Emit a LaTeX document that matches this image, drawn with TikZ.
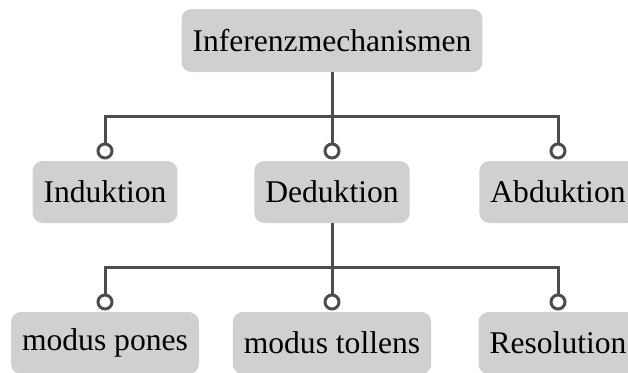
\documentclass[tikz,border=0pt]{standalone}
\usepackage{fontspec}
\setmainfont{Liberation Serif}
\begin{document}
\begin{tikzpicture}[x=0.75pt,y=-0.75pt,
  conceptbox/.style={rectangle, rounded corners=7.5pt, fill=boxgray, text=black,
    inner xsep=8.25pt, inner ysep=0pt, minimum height=46.5pt,
    font=\fontsize{23.7}{28}\selectfont},
  conn/.style={draw=linegray, line width=2.25pt},
  knob/.style={circle, draw=linegray, fill=white, line width=2.25pt,
    minimum size=10.5pt, inner sep=0pt}]
\definecolor{boxgray}{HTML}{D0D0D0}
\definecolor{linegray}{HTML}{4D4D4D}
\useasboundingbox (0,0) rectangle (628,372);

% level 0
\node[conceptbox, minimum height=47.25pt] (top) at (332,40.5) {Inferenzmechanismen};

% level 1
\node[conceptbox] (ind) at (105,192) {Induktion};
\node[conceptbox] (ded) at (332,192) {Deduktion};
\node[conceptbox] (abd) at (558,192) {Abduktion};

% level 2
\node[conceptbox] (mp) at (105,343) {modus pones};
\node[conceptbox] (mt) at (332,343) {modus tollens};
\node[conceptbox] (res) at (558,343) {Resolution};

% connector knobs above the child boxes
\node[knob] (k1) at (105,151) {};
\node[knob] (k2) at (332,151) {};
\node[knob] (k3) at (558,151) {};
\node[knob] (k4) at (105,302) {};
\node[knob] (k5) at (332,302) {};
\node[knob] (k6) at (558,302) {};

\coordinate (j1) at (332,116);
\coordinate (j2) at (332,267);

% branches
\draw[conn] (top.south) -- (j1);
\draw[conn] (k1.north) |- (j1) -| (k3.north);
\draw[conn] (j1) -- (k2.north);

\draw[conn] (ded.south) -- (j2);
\draw[conn] (k4.north) |- (j2) -| (k6.north);
\draw[conn] (j2) -- (k5.north);
\end{tikzpicture}
\end{document}
